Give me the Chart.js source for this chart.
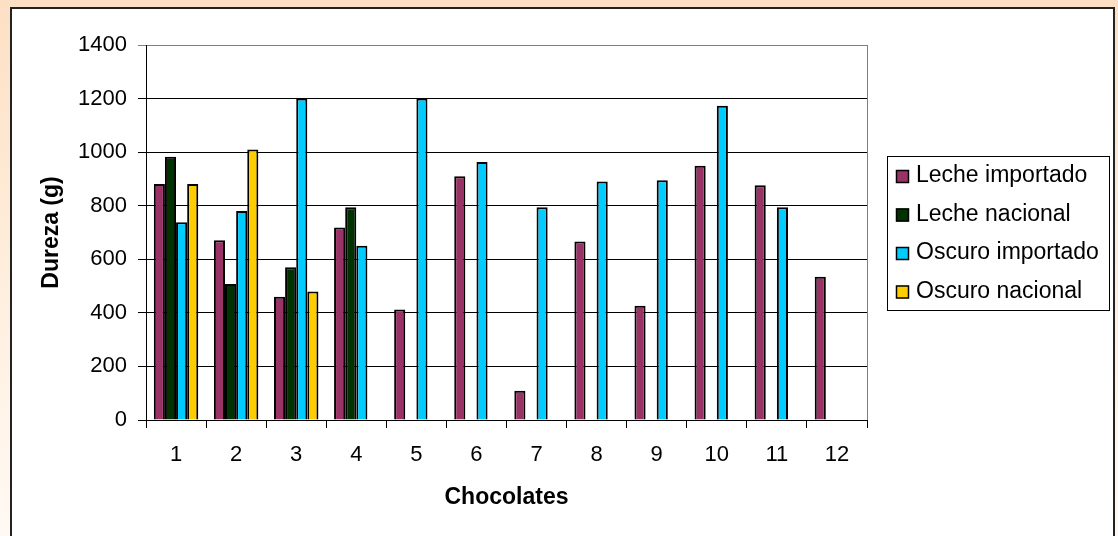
<!DOCTYPE html>
<html>
<head>
<meta charset="utf-8">
<script src="https://cdn.jsdelivr.net/npm/chart.js@4/dist/chart.umd.min.js"></script>
<style>
  html, body { margin: 0; padding: 0; width: 1118px; height: 536px; overflow: hidden; }
  body { background: linear-gradient(#fde0c4 0%, #fff3e6 70%, #fff9f3 100%); position: relative; }
  #frame { position: absolute; left: 10px; top: 7px; width: 1105px; height: 560px;
           background: #fff; border: 2px solid #222; border-bottom: none; box-sizing: border-box; }
  #chart { position: absolute; left: 0; top: 0; }
</style>
</head>
<body>
<div id="frame"></div>
<canvas id="chart" width="1118" height="536"></canvas>
<script>
// Hardness (g) measured for each chocolate sample
const chocolates = ['1', '2', '3', '4', '5', '6', '7', '8', '9', '10', '11', '12'];
const lecheImportado  = [881, 671, 460, 719, 413, 910, 109, 666, 427, 949, 876, 535];
const lecheNacional   = [983, 508, 570, 794, null, null, null, null, null, null, null, null];
const oscuroImportado = [738, 780, 1200, 651, 1200, 963, 794, 890, 895, 1173, 794, null];
const oscuroNacional  = [881, 1010, 480, null, null, null, null, null, null, null, null, null];
const seriesNames = ['Leche importado', 'Leche nacional', 'Oscuro importado', 'Oscuro nacional'];
const seriesColors = ['#993366', '#003300', '#00ccff', '#ffcc00'];
const yTicks = [0, 200, 400, 600, 800, 1000, 1200, 1400];

const FONT = 'Arial, "Liberation Sans", sans-serif';

// Boxed legend on the right, drawn from the dataset labels and colours
const boxedLegend = {
  id: 'boxedLegend',
  afterDraw(chart) {
    const ctx = chart.ctx;
    ctx.save();
    ctx.strokeStyle = '#000';
    ctx.lineWidth = 1;
    ctx.strokeRect(887.5, 156.5, 222, 154);
    ctx.font = '23px ' + FONT;
    ctx.textBaseline = 'middle';
    ctx.textAlign = 'left';
    chart.data.datasets.forEach((ds, i) => {
      const cy = 176 + i * 38.5;
      ctx.fillStyle = ds.backgroundColor;
      ctx.fillRect(896, cy - 6, 13, 13);
      ctx.strokeStyle = '#000';
      ctx.lineWidth = 1.5;
      ctx.strokeRect(896.5, cy - 5.5, 12, 12);
      ctx.fillStyle = '#000';
      ctx.fillText(ds.label, 916, cy);
    });
    ctx.restore();
  }
};

// Grey right edge of the plot area
const plotEdge = {
  id: 'plotEdge',
  beforeDatasetsDraw(chart) {
    const { ctx, chartArea } = chart;
    ctx.save();
    ctx.strokeStyle = '#808080';
    ctx.lineWidth = 1;
    ctx.beginPath();
    ctx.moveTo(chartArea.right + 0.5, chartArea.top);
    ctx.lineTo(chartArea.right + 0.5, chartArea.bottom);
    ctx.stroke();
    ctx.restore();
  }
};

const datasets = [lecheImportado, lecheNacional, oscuroImportado, oscuroNacional].map((d, i) => ({
  label: seriesNames[i],
  data: d,
  backgroundColor: seriesColors[i],
  borderColor: '#000',
  borderWidth: 2,
  borderSkipped: 'bottom',
  barPercentage: 1.0,
  categoryPercentage: 0.74
}));

new Chart(document.getElementById('chart'), {
  type: 'bar',
  data: { labels: chocolates, datasets },
  plugins: [boxedLegend, plotEdge],
  options: {
    responsive: false,
    animation: false,
    devicePixelRatio: 1,
    layout: { padding: { top: 45, right: 251, left: 0, bottom: 0 } },
    plugins: { legend: { display: false }, tooltip: { enabled: false } },
    scales: {
      x: {
        afterFit(scale) { scale.height = 116; },
        grid: { display: true, offset: true, drawOnChartArea: false, drawTicks: true,
                tickLength: 8, color: '#000', lineWidth: 1 },
        border: { color: '#000', width: 1 },
        ticks: { color: '#000', font: { family: FONT, size: 22 }, padding: 14 },
        title: { display: true, text: 'Chocolates', color: '#000',
                 font: { family: FONT, size: 23, weight: 'bold' }, padding: { top: 0, bottom: 25 } }
      },
      y: {
        min: 0, max: 1400,
        afterFit(scale) { scale.width = 146; },
        afterBuildTicks(scale) { scale.ticks = yTicks.map(v => ({ value: v })); },
        grid: { color: ctx => (ctx.tick && ctx.tick.value === 1400 ? '#808080' : '#000'),
                lineWidth: 1, tickLength: 8, drawTicks: true },
        border: { color: '#000', width: 1 },
        ticks: { color: '#000', font: { family: FONT, size: 22 }, padding: 11,
                 callback: v => String(v) },
        title: { display: true, text: 'Dureza (g)', color: '#000',
                 font: { family: FONT, size: 23, weight: 'bold' }, padding: { top: 38, bottom: 0 } }
      }
    }
  }
});
</script>
</body>
</html>
